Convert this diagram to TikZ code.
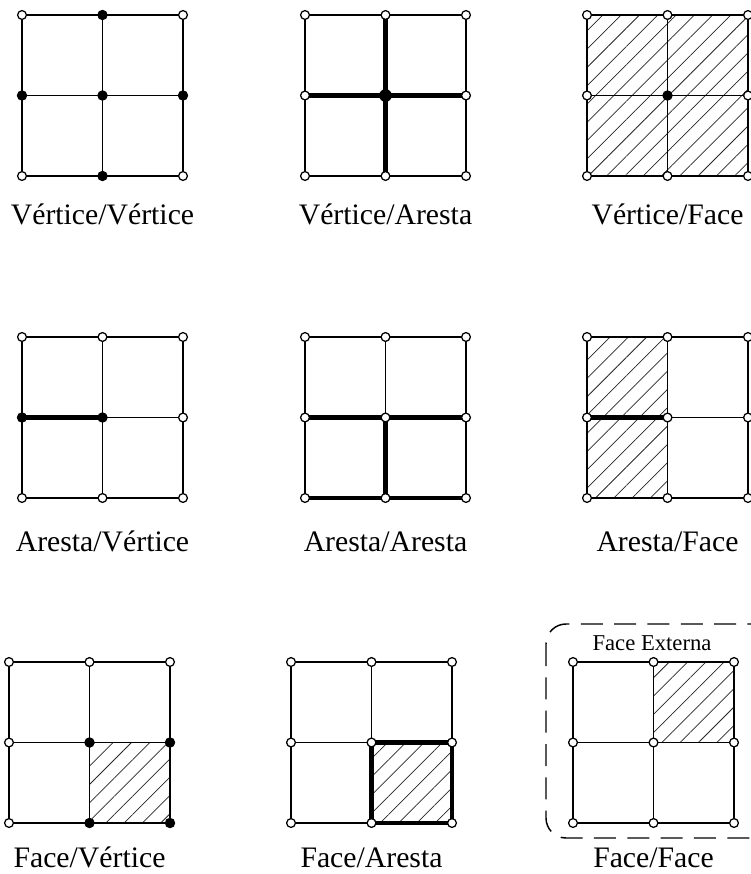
\documentclass[tikz,border=0pt]{standalone}
\usepackage{fontspec}
\setmainfont{Liberation Serif}
\usetikzlibrary{patterns.meta}
\newcommand\mkgrid[3]{\foreach \i in {0,1,2}{\foreach \j in {0,1,2}{\coordinate (#1\i\j) at ({#2+80.5*\i},{#3+80.5*\j});}}}
\newcommand\gridlines[1]{\foreach \k in {0,1,2}{\draw[gl] (#10\k) -- (#12\k); \draw[gl] (#1\k0) -- (#1\k2);}}
\tikzset{
  gl/.style={line width=1.15pt, black},
  thk/.style={line width=3.2pt, black},
  hatch/.style={pattern={Lines[angle=45,distance=9.7pt,line width=0.55pt]}, pattern color=black!85},
  vo/.style={circle, draw, line width=0.95pt, fill=white, inner sep=0pt, minimum size=6.6pt},
  vf/.style={circle, draw, line width=0.95pt, fill=black, inner sep=0pt, minimum size=6.8pt},
  vbig/.style={circle, draw, line width=0.95pt, fill=black, inner sep=0pt, minimum size=8.6pt},
  lbl/.style={anchor=base, inner sep=0pt, font=\fontsize{22.3}{26}\selectfont},
  small/.style={inner sep=0pt, font=\fontsize{17}{20}\selectfont},
  outer/.style={line width=1.1pt, dash pattern=on 16.5pt off 8.5pt, rounded corners=15pt}
}
\begin{document}
\begin{tikzpicture}[x=0.75pt,y=-0.75pt]
\useasboundingbox (0,0) rectangle (750,874);
\mkgrid{A}{22}{15}
\mkgrid{B}{305}{15}
\mkgrid{C}{587}{15}
\mkgrid{D}{22}{337}
\mkgrid{E}{305}{337}
\mkgrid{F}{587}{337}
\mkgrid{G}{9}{662}
\mkgrid{H}{291}{662}
\mkgrid{I}{573}{662}
% hatching
\fill[hatch] (C00) rectangle (C22);
\fill[hatch] (F00) rectangle (F12);
\fill[hatch] (G11) rectangle (G22);
\fill[hatch] (H11) rectangle (H22);
\fill[hatch] (I10) rectangle (I21);
% dashed outer face
\draw[outer] (546,624) rectangle (800,838);
\node[small] (fe) at (652,643) {Face Externa};
% grid lines
\gridlines{A}\gridlines{B}\gridlines{C}
\gridlines{D}\gridlines{E}\gridlines{F}
\gridlines{G}\gridlines{H}\gridlines{I}
% thick edges
\draw[thk] (B01) -- (B21);
\draw[thk] (B10) -- (B12);
\draw[thk] (D01) -- (D11);
\draw[thk] (E01) -- (E21);
\draw[thk] (E11) -- (E12);
\draw[thk] (E02) -- (E22);
\draw[thk] (F01) -- (F11);
\draw[thk] (H11) -- (H21) -- (H22) -- (H12) -- cycle;
% vertices
\foreach \p in {00,20,02,22} \node[vo] (vA\p) at (A\p) {};
\foreach \p in {10,01,11,21,12} \node[vf] (vA\p) at (A\p) {};
\foreach \p in {00,10,20,01,21,02,12,22} \node[vo] (vB\p) at (B\p) {};
\node[vbig] (vB11) at (B11) {};
\foreach \p in {00,10,20,01,21,02,12,22} \node[vo] (vC\p) at (C\p) {};
\node[vf] (vC11) at (C11) {};
\foreach \p in {00,10,20,21,02,12,22} \node[vo] (vD\p) at (D\p) {};
\foreach \p in {01,11} \node[vf] (vD\p) at (D\p) {};
\foreach \p in {00,10,20,01,11,21,02,12,22} \node[vo] (vE\p) at (E\p) {};
\foreach \p in {00,10,20,01,11,21,02,12,22} \node[vo] (vF\p) at (F\p) {};
\foreach \p in {00,10,20,01,02} \node[vo] (vG\p) at (G\p) {};
\foreach \p in {11,21,12,22} \node[vf] (vG\p) at (G\p) {};
\foreach \p in {00,10,20,01,11,21,02,12,22} \node[vo] (vH\p) at (H\p) {};
\foreach \p in {00,10,20,01,11,21,02,12,22} \node[vo] (vI\p) at (I\p) {};
% labels
\node[lbl] (lA) at (102.5,224) {Vértice/Vértice};
\node[lbl] (lB) at (385.5,224) {Vértice/Aresta};
\node[lbl] (lC) at (667.5,224) {Vértice/Face};
\node[lbl] (lD) at (102.5,551) {Aresta/Vértice};
\node[lbl] (lE) at (385.5,551) {Aresta/Aresta};
\node[lbl] (lF) at (667.5,551) {Aresta/Face};
\node[lbl] (lG) at (89.5,867) {Face/Vértice};
\node[lbl] (lH) at (371.5,867) {Face/Aresta};
\node[lbl] (lI) at (653.5,867) {Face/Face};
\end{tikzpicture}
\end{document}
